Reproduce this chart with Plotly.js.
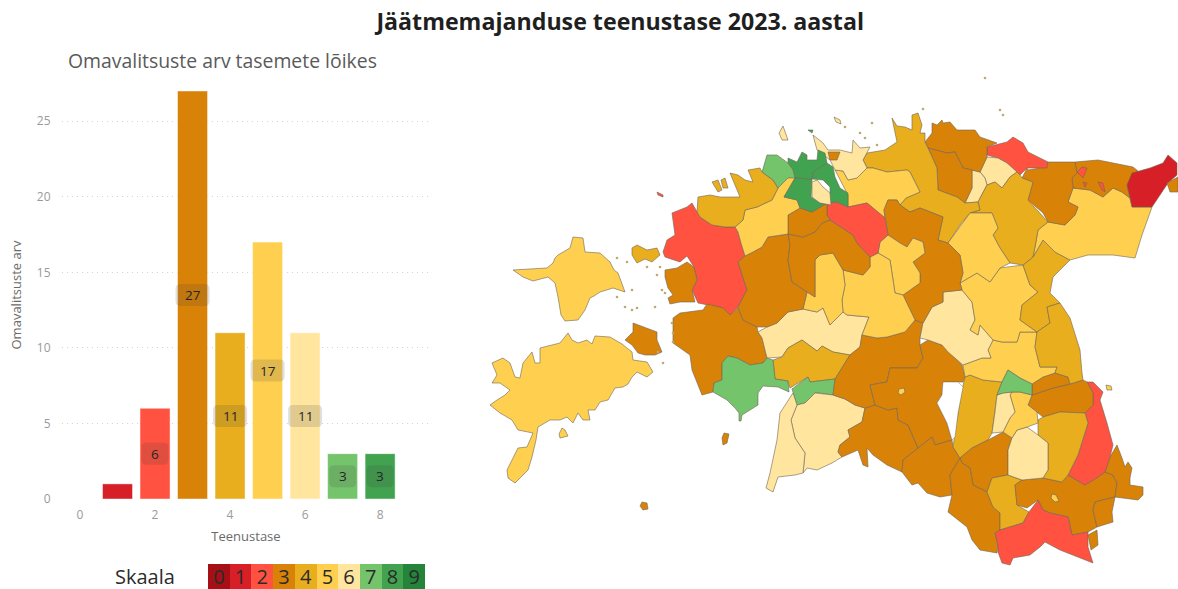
<!DOCTYPE html>
<html><head><meta charset="utf-8">
<script src="https://cdn.plot.ly/plotly-3.0.1.min.js"></script>
<style>html,body{margin:0;padding:0;background:#fff;overflow:hidden}#c{width:1178px;height:589px}</style>
</head><body><div id="c"></div>
<script>
// Bar chart data
const barLevels = [1,2,3,4,5,6,7,8];
const barCounts = [1,6,27,11,17,11,3,3];
const barLabels = ['', '6','27','11','17','11','3','3'];
// Scale
const scaleLevels = [0,1,2,3,4,5,6,7,8,9];
const scaleColors = ['#A50F15','#D61F26','#FF5240','#D98208','#E9AE1E','#FFD050','#FFE59E','#74C46C','#41A350','#23843A'];
const yTicks = [0,5,10,15,20,25];
const xTicks = [0,2,4,6,8];
// Map: municipality outlines, [x,y] pairs, with service level
const hiiumaa=[513,270,527,269,547,268,553,263,555,258,558,255,570,248,573,237,583,238,585,252,600,253,610,262,614,270,618,273,622,285,625,292,613,288,606,290,600,292,594,296,590,298,585,310,578,320,565,321,561,315,558,297,555,283,548,277,533,281,523,277];
const saaremaa=[492,363,503,358,510,363,515,377,520,378,523,363,532,352,535,363,540,363,540,348,560,343,568,333,572,340,578,343,587,340,592,344,595,336,610,337,622,344,632,352,633,360,647,362,653,372,647,377,637,372,632,377,628,384,623,387,615,388,608,400,600,402,595,410,588,410,590,420,583,420,578,413,573,423,567,417,560,420,550,420,538,427,536,440,532,457,528,470,515,483,508,478,507,470,518,448,527,447,533,433,518,430,512,420,500,413,490,405,497,400,505,395,510,390,500,383,492,383,497,375];
const ruhnu=[642,502,647,503,648,509,643,510,640,506];
const kihnu=[724,433,729,434,727,443,723,445,722,438];
const abruka=[562,428,565,430,568,436,560,438,559,434];
const muhu=[633,323,643,327,657,332,657,340,662,352,655,355,645,355,638,353,632,345,625,340,633,332];
const vormsi=[632,248,637,245,647,250,657,248,660,255,652,262,645,259,637,263,632,255];
const laaneNigula=[672,213,687,207,692,203,697,212,700,217,712,225,725,227,735,227,738,232,741,243,745,256,738,262,747,290,738,307,730,315,723,308,710,305,698,303,692,290,697,280,694,267,687,256,680,262,665,257,663,252,667,240,675,235,673,220];
const haapsalu=[665,270,677,268,687,262,694,267,697,280,692,290,695,302,680,302,670,304,668,298,673,295,668,288,665,277];
const laaneranna=[673,318,680,313,703,310,707,304,723,308,730,315,738,308,743,320,757,327,758,332,762,338,767,358,763,363,750,365,737,358,728,356,722,363,722,380,714,383,713,392,702,395,697,383,692,370,690,355,680,348,673,343];
const parnu=[722,363,728,356,737,358,750,365,763,363,767,358,773,360,775,379,788,381,789,392,778,387,763,386,758,393,758,405,742,415,741,421,739,421,739,413,735,408,727,400,713,392,714,383,722,380];
const pohjaParnumaa=[758,332,767,327,777,323,788,312,803,309,817,312,823,308,830,325,843,312,847,315,869,317,862,335,860,347,850,355,833,352,822,346,817,351,802,340,788,348,782,357,767,358,762,338];
const tori=[773,360,782,357,788,348,802,340,817,351,822,346,833,352,850,355,835,379,810,382,808,377,790,388,788,381,775,379];
const saarde=[792,389,808,377,810,382,835,379,833,395,820,393,815,393,805,403,797,405,793,393];
const haademeeste=[793,393,780,413,777,440,770,473,766,488,773,492,778,477,795,475,803,473,805,453,795,438,791,420,797,405];
const kilingi=[797,405,805,403,815,393,833,395,845,399,855,405,865,408,862,422,848,430,850,437,840,445,838,452,842,457,832,463,817,470,807,468,803,473,805,453,795,438,791,420];
const mulgi=[838,452,840,445,850,437,848,430,862,422,865,408,875,405,888,410,897,408,898,420,908,425,918,448,903,460,902,472,887,465,873,455,867,448,868,467,863,465,858,450,842,457];
const pohjaSakala=[833,395,835,379,850,355,860,347,862,335,877,338,887,337,905,332,915,320,923,323,920,338,920,345,923,358,917,368,890,368,887,382,870,385,875,405,865,408,855,405,845,399];
const viljandi=[870,385,887,382,890,368,917,368,923,358,920,345,928,340,942,345,962,365,965,377,963,382,958,382,943,382,942,395,937,403,947,423,952,440,935,445,932,437,918,448,908,425,898,420,897,408,888,410,875,405];
const viljandiLinn=[899,389,904,388,905,392,901,395,898,393];
const tarvastu=[903,460,918,448,932,437,935,445,952,440,953,447,960,458,950,475,952,495,940,497,927,493,918,483,912,485,902,472];
const elva=[965,377,970,375,983,380,1002,382,997,395,995,412,992,433,988,440,972,448,960,458,953,447,957,420,962,390];
const otepaa=[960,458,972,448,988,440,1003,432,1012,438,1008,450,1008,475,992,478,987,492,973,485,970,468,962,463];
const valga=[950,475,960,458,962,463,970,468,973,485,987,492,993,507,1000,513,1000,530,995,533,998,545,997,553,980,550,972,540,967,527,948,512,952,495];
const antsla=[992,478,1008,475,1022,480,1015,485,1017,505,1029,512,1023,523,1000,530,1000,513,993,507,987,492];
const rouge=[1000,530,1023,523,1029,512,1038,500,1043,510,1050,513,1068,517,1072,535,1088,532,1088,547,1093,563,1077,557,1060,550,1045,542,1040,547,1030,555,1013,558,1010,565,1002,563,998,552,998,545,995,533];
const voruVald=[1015,485,1022,480,1043,478,1062,482,1068,475,1085,485,1098,477,1105,472,1113,475,1117,483,1115,497,1095,502,1093,510,1097,527,1088,532,1072,535,1068,517,1050,513,1043,510,1038,500,1027,508,1017,505];
const voruLinn=[1052,494,1056,495,1059,501,1055,502,1051,498];
const setomaa=[1115,497,1117,483,1113,475,1105,472,1110,457,1117,445,1122,458,1125,467,1128,462,1132,468,1130,478,1130,485,1143,487,1143,495,1138,500];
const setoLouna=[1095,502,1115,497,1112,512,1113,522,1097,527,1093,510];
const setoVaike=[1088,535,1097,530,1098,545,1091,550];
const rapina=[1087,382,1093,382,1103,392,1100,400,1107,423,1113,445,1110,457,1105,472,1098,477,1085,485,1068,475,1078,455,1088,423,1085,413,1093,405,1093,393];
const kastre=[1028,405,1032,395,1053,388,1070,384,1083,380,1087,382,1093,393,1093,405,1085,413,1060,412,1043,417,1037,412];
const kastrePohi=[1032,384,1043,377,1055,373,1068,377,1070,384,1053,388,1032,395];
const polva=[1038,420,1043,417,1060,412,1085,413,1088,423,1078,455,1068,475,1062,482,1043,478,1048,470,1048,443,1038,435];
const kanepi=[1008,450,1012,438,1017,430,1027,427,1038,435,1048,443,1048,470,1043,478,1022,480,1008,475];
const noo=[1012,392,1020,392,1032,395,1028,405,1037,412,1038,420,1038,423,1027,427,1017,430,1012,438,1003,432,1010,418,1015,412,1010,395];
const tartuLinnLouna=[997,395,1003,393,1012,392,1010,395,1015,412,1010,418,1003,432,992,433,995,412];
const luunja=[997,395,1002,382,1008,370,1020,378,1032,384,1032,395,1020,392,1012,392,1003,393];
const tartuVald=[963,365,982,358,991,358,988,350,993,340,1002,342,1017,342,1020,332,1037,332,1035,347,1040,367,1057,367,1055,373,1043,377,1032,384,1020,378,1008,370,1002,382,983,380,970,375,965,377];
const poltsamaa=[920,338,923,323,932,307,943,302,943,292,962,290,972,302,975,320,970,330,978,335,980,325,993,340,988,350,991,358,982,358,963,365,948,352,942,345,928,340];
const jogeva=[960,283,977,273,990,282,1000,268,1023,265,1030,285,1038,292,1022,305,1020,320,1037,332,1020,332,1017,342,1002,342,993,340,980,325,978,335,970,330,975,320,972,302,962,290];
const mustvee=[1023,265,1033,257,1043,240,1055,252,1070,260,1053,277,1050,293,1060,303,1047,307,1050,323,1037,332,1020,320,1022,305,1038,292,1030,285];
const peipsiaare=[1047,307,1060,303,1070,318,1080,350,1082,373,1083,380,1070,384,1068,377,1055,373,1057,367,1040,367,1035,347,1037,332,1050,323];
const alutaguse=[1035,247,1038,230,1048,222,1065,225,1075,215,1078,207,1068,202,1073,188,1090,190,1103,197,1113,188,1122,192,1130,198,1132,207,1152,207,1142,235,1135,258,1113,255,1088,255,1070,260,1055,252,1043,240,1033,257];
const narva=[1127,185,1132,173,1150,168,1163,163,1168,155,1177,163,1177,175,1168,183,1152,207,1132,207,1130,198];
const narvaVaike=[1167,183,1178,177,1178,192,1170,192];
const kohtla=[1075,162,1098,160,1133,167,1138,171,1127,185,1130,198,1122,192,1113,188,1103,197,1090,190,1073,188,1072,178,1077,173];
const kohtlaJarve=[1077,172,1082,167,1087,168,1083,178];
const jarveTeine=[1098,182,1103,183,1105,192,1102,190];
const jarveKolmas=[1083,182,1087,183,1085,187];
const luganuse=[1027,168,1028,170,1040,168,1048,162,1075,162,1077,173,1072,178,1073,188,1068,202,1078,207,1075,215,1065,225,1048,222,1043,213,1028,200,1033,182,1022,178];
const viruNigula=[987,147,1007,142,1013,137,1023,143,1028,152,1048,162,1047,168,1040,168,1027,168,1020,175,1017,172,1007,163,998,158,987,155];
const rakvereLinn=[987,157,998,158,1007,163,1017,172,1010,177,1002,188,995,182,987,185,985,178,980,172];
const rakvereRiba=[972,170,980,172,985,178,987,185,978,202,965,203,972,188];
const haljala=[925,142,932,133,932,123,937,125,942,120,943,123,950,122,957,130,975,130,980,137,997,143,987,147,987,157,980,172,972,170,963,168,955,152,947,153,928,148];
const kadrina=[928,148,947,153,955,152,963,168,972,170,972,188,965,203,957,197,938,190,937,168];
const vinni=[978,202,987,185,995,182,1002,188,1010,177,1017,172,1020,175,1022,178,1033,182,1028,200,1048,222,1038,230,1035,247,1033,257,1023,265,1010,263,1000,248,993,235,998,228,992,213,970,213,980,210];
const kuusalu=[867,168,863,160,867,153,885,150,897,142,892,118,897,126,905,127,912,130,912,115,918,113,922,125,920,133,925,133,925,142,928,148,937,168,938,190,957,197,965,203,978,202,980,210,970,213,960,225,948,243,938,240,943,217,920,208,910,212,900,205,906,198,920,192,910,172,907,170,887,172,873,168];
const anija=[835,170,843,171,848,180,857,178,867,168,873,168,887,172,907,170,910,172,920,192,906,198,900,205,897,200,888,200,884,210,885,218,867,203,848,207,848,195,840,180];
const koeru=[948,243,970,213,992,213,998,228,993,235,1000,248,1010,263,1000,268,990,282,977,273,960,283,963,273,960,255];
const jarva=[888,200,897,200,900,205,910,212,920,208,943,217,938,240,948,243,960,255,963,273,960,283,962,290,943,292,943,302,932,307,923,323,915,320,903,295,920,283,920,273,913,262,925,253,923,242,913,238,907,247,900,243,888,235,885,218,884,210];
const paide=[880,242,888,235,900,243,907,247,913,238,923,242,925,253,913,262,920,273,920,283,903,295,895,293,890,260,878,253];
const turi=[890,260,895,293,903,295,915,320,905,332,887,337,877,338,862,335,869,317,847,315,843,312,842,300,845,285,843,270,863,275,870,267,870,257,878,253];
const kehtna=[803,309,807,292,815,297,815,260,820,255,833,253,843,270,845,285,842,300,843,312,830,325,823,308,817,312];
const marjamaa=[738,262,745,256,753,252,762,247,768,237,788,234,790,245,788,260,792,282,807,292,803,309,788,312,777,323,767,327,757,327,743,320,738,307,747,290];
const rapla=[788,234,803,237,815,232,822,223,830,220,853,235,857,243,870,257,870,267,863,275,843,270,833,253,820,255,815,260,815,297,807,292,792,282,788,260,790,245];
const kose=[827,203,837,202,848,207,867,203,885,218,888,235,880,242,878,253,870,257,857,243,853,235,830,220,827,215];
const kohila=[788,215,800,208,812,212,827,203,827,215,830,220,822,223,815,232,803,237,788,234];
const saue=[778,170,788,168,795,178,784,197,797,200,800,208,788,215,788,234,768,237,762,247,753,252,745,256,741,243,738,232,735,227,743,220,745,210,757,207,772,200,778,188];
const laaneHarju=[698,197,710,195,720,197,740,197,730,173,738,175,745,180,753,182,748,170,760,168,762,172,773,180,778,188,772,200,757,207,745,210,743,220,735,227,725,227,712,225,700,217,697,212];
const pakriUks=[712,182,718,180,722,190,718,192];
const pakriKaks=[721,180,725,178,728,188,723,188];
const osmussaar=[657,192,663,195,663,197,658,195];
const viimsi=[813,135,823,143,828,150,840,150,852,153,853,140,860,148,870,147,863,160,867,168,857,178,848,180,843,171,835,170,830,160,817,150];
const maardu=[828,152,840,152,837,160,830,160];
const tallinn=[788,158,797,162,802,152,807,155,807,160,817,160,818,150,825,153,827,163,813,172,812,179,795,178,793,170,788,163];
const rae=[812,179,813,172,827,163,833,167,835,177,840,188,848,193,848,207,837,202,827,203,830,200,830,187,823,180];
const kiili=[812,182,817,180,823,187,830,193,831,205,820,203,812,197];
const sauePohi=[795,178,812,179,811,197,820,203,827,203,812,212,800,208,797,200,784,197];
const harku=[767,155,777,155,788,163,793,170,795,178,788,178,778,188,773,180,762,172,765,163];
const naissaar=[783,126,788,140,782,140,779,133];
const aegna=[808,130,813,130,812,133];
const prangli=[834,117,840,120,841,124,836,122];
const piirissaar=[1106,385,1111,386,1112,390,1107,390];

const regionShapes=[hiiumaa,saaremaa,ruhnu,kihnu,abruka,muhu,vormsi,laaneNigula,haapsalu,laaneranna,pohjaParnumaa,tori,parnu,saarde,kilingi,haademeeste,mulgi,pohjaSakala,viljandi,viljandiLinn,tarvastu,elva,otepaa,valga,antsla,voruVald,voruLinn,rouge,setomaa,setoLouna,setoVaike,rapina,kastre,kastrePohi,polva,kanepi,noo,tartuLinnLouna,tartuVald,luunja,poltsamaa,jogeva,mustvee,peipsiaare,alutaguse,kohtla,kohtlaJarve,jarveTeine,jarveKolmas,narva,narvaVaike,luganuse,viruNigula,rakvereLinn,rakvereRiba,haljala,kadrina,vinni,kuusalu,anija,koeru,jarva,paide,turi,kehtna,marjamaa,rapla,kose,kohila,saue,laaneHarju,pakriUks,pakriKaks,osmussaar,viimsi,maardu,sauePohi,tallinn,rae,kiili,harku,naissaar,aegna,prangli,piirissaar];
const regionLevels=[5,5,3,3,5,3,4,2,3,3,6,4,7,7,6,6,3,3,3,5,3,4,3,3,4,3,5,2,3,3,3,2,3,3,4,6,5,6,5,7,6,5,4,4,5,3,2,2,2,1,3,3,2,6,6,3,3,4,4,5,5,3,5,5,5,3,3,2,3,5,4,4,4,2,6,3,8,8,8,6,7,6,8,6,5];
const vortsjarv=[943,382,958,382,963,387,958,413,955,437,952,440,947,423,937,403,942,395];
const isletX=[617,627,632,617,625,632,637,655,647,660,657,662,665,672,673,673,658,663,845,860,872,877,865,923,1000,1003,985];
const isletY=[258,262,290,297,307,310,308,307,267,267,275,290,293,323,333,342,352,363,127,133,123,145,138,109,110,115,78];

function polygonTrace(s,fill,lineColor){
  const xs=[],ys=[];
  for(let k=0;k<s.length;k+=2){xs.push(s[k]);ys.push(s[k+1]);}
  xs.push(s[0]);ys.push(s[1]);
  return {type:'scatter',mode:'lines',x:xs,y:ys,fill:'toself',fillcolor:fill,
    line:{color:lineColor,width:0.8},xaxis:'x3',yaxis:'y3',hoverinfo:'skip',showlegend:false};
}
const traces=regionShapes.map((s,i)=>polygonTrace(s,scaleColors[regionLevels[i]],'rgba(110,100,85,0.75)'));
traces.push(polygonTrace(vortsjarv,'#ffffff','rgba(110,100,85,0.5)'));
traces.push({type:'scatter',mode:'markers',x:isletX,y:isletY,marker:{size:2.6,color:'#BDA873'},xaxis:'x3',yaxis:'y3',hoverinfo:'skip',showlegend:false});

traces.push({type:'bar',x:barLevels,y:barCounts,width:0.8,
  marker:{color:barLevels.map(l=>scaleColors[l]),line:{color:'rgba(255,255,255,0.45)',width:1}},
  xaxis:'x',yaxis:'y',hoverinfo:'skip',showlegend:false});
traces.push({type:'bar',x:scaleLevels,y:scaleLevels.map(()=>1),width:1,
  marker:{color:scaleColors,line:{width:0}},xaxis:'x2',yaxis:'y2',hoverinfo:'skip',showlegend:false});
traces.push({type:'scatter',mode:'text',x:scaleLevels,y:scaleLevels.map(()=>0.42),text:scaleLevels.map(String),
  textposition:'middle center',textfont:{family:'"Open Sans",sans-serif',size:20,color:'#2b2b2b'},cliponaxis:false,
  xaxis:'x2',yaxis:'y2',hoverinfo:'skip',showlegend:false});

const W=1178,H=589;
const shapes=[];
const annotations=[];
barLevels.forEach((l,i)=>{
  if(!barLabels[i])return;
  annotations.push({x:l,y:barCounts[i]/2,xref:'x',yref:'y',text:barLabels[i],showarrow:false,
    font:{family:'"Open Sans",sans-serif',size:13.5,color:'#262626'}});
  const hw=barLabels[i].length>1?17:13.5, hh=11, r=5;
  shapes.push({type:'path',xref:'x',yref:'y',xsizemode:'pixel',ysizemode:'pixel',xanchor:l,yanchor:barCounts[i]/2,layer:'above',
    fillcolor:'rgba(60,60,60,0.16)',line:{width:0},
    path:`M ${-hw+r} ${-hh} L ${hw-r} ${-hh} Q ${hw} ${-hh} ${hw} ${-hh+r} L ${hw} ${hh-r} Q ${hw} ${hh} ${hw-r} ${hh} L ${-hw+r} ${hh} Q ${-hw} ${hh} ${-hw} ${hh-r} L ${-hw} ${-hh+r} Q ${-hw} ${-hh} ${-hw+r} ${-hh} Z`});
});
annotations.push({x:65.5,y:60,xref:'x3',yref:'y3',xanchor:'left',text:'Omavalitsuste arv tasemete lõikes',showarrow:false,
  font:{family:'"Open Sans",sans-serif',size:19.4,color:'#5a5a5a'}});
annotations.push({x:145,y:576,xref:'x3',yref:'y3',text:'Skaala',showarrow:false,
  font:{family:'"Open Sans",sans-serif',size:20,color:'#2b2b2b'}});

const layout={
  width:W,height:H,margin:{l:0,r:0,t:0,b:0},paper_bgcolor:'#fff',plot_bgcolor:'rgba(0,0,0,0)',showlegend:false,
  title:{text:'<b>Jäätmemajanduse teenustase 2023. aastal</b>',x:0.5265,xanchor:'center',y:0.963,yanchor:'middle',
    font:{family:'"Open Sans",sans-serif',size:23.2,color:'#1f1f1f'}},
  bargap:0,
  xaxis:{domain:[62/W,430/W],range:[-0.48,9.33],tickvals:xTicks,showgrid:false,zeroline:false,showline:false,
    ticks:'outside',ticklen:5,tickcolor:'rgba(0,0,0,0)',tickfont:{family:'"Open Sans",sans-serif',size:12,color:'#9a9a9a'},
    title:{text:'Teenustase',standoff:9,font:{family:'"Open Sans",sans-serif',size:13,color:'#6a6a6a'}},anchor:'y'},
  yaxis:{domain:[1-499/H,1-91/H],range:[0,27],tickvals:yTicks,showgrid:true,griddash:'1px,4px',gridcolor:'#d4d4d4',gridwidth:1,zeroline:false,showline:false,
    ticks:'outside',ticklen:8,tickcolor:'rgba(0,0,0,0)',tickfont:{family:'"Open Sans",sans-serif',size:12,color:'#9a9a9a'},
    title:{text:'Omavalitsuste arv',standoff:12,font:{family:'"Open Sans",sans-serif',size:13,color:'#6a6a6a'}},anchor:'x'},
  xaxis2:{domain:[208/W,425/W],range:[-0.5,9.5],visible:false,anchor:'y2',fixedrange:true},
  yaxis2:{domain:[0,25/H],range:[0,1],visible:false,anchor:'x2',fixedrange:true},
  xaxis3:{domain:[0,1],range:[0,W],visible:false,anchor:'y3',fixedrange:true},
  yaxis3:{domain:[0,1],range:[H,0],visible:false,anchor:'x3',fixedrange:true},
  annotations,shapes
};
Plotly.newPlot('c',traces,layout,{displayModeBar:false,staticPlot:true});
</script></body></html>
